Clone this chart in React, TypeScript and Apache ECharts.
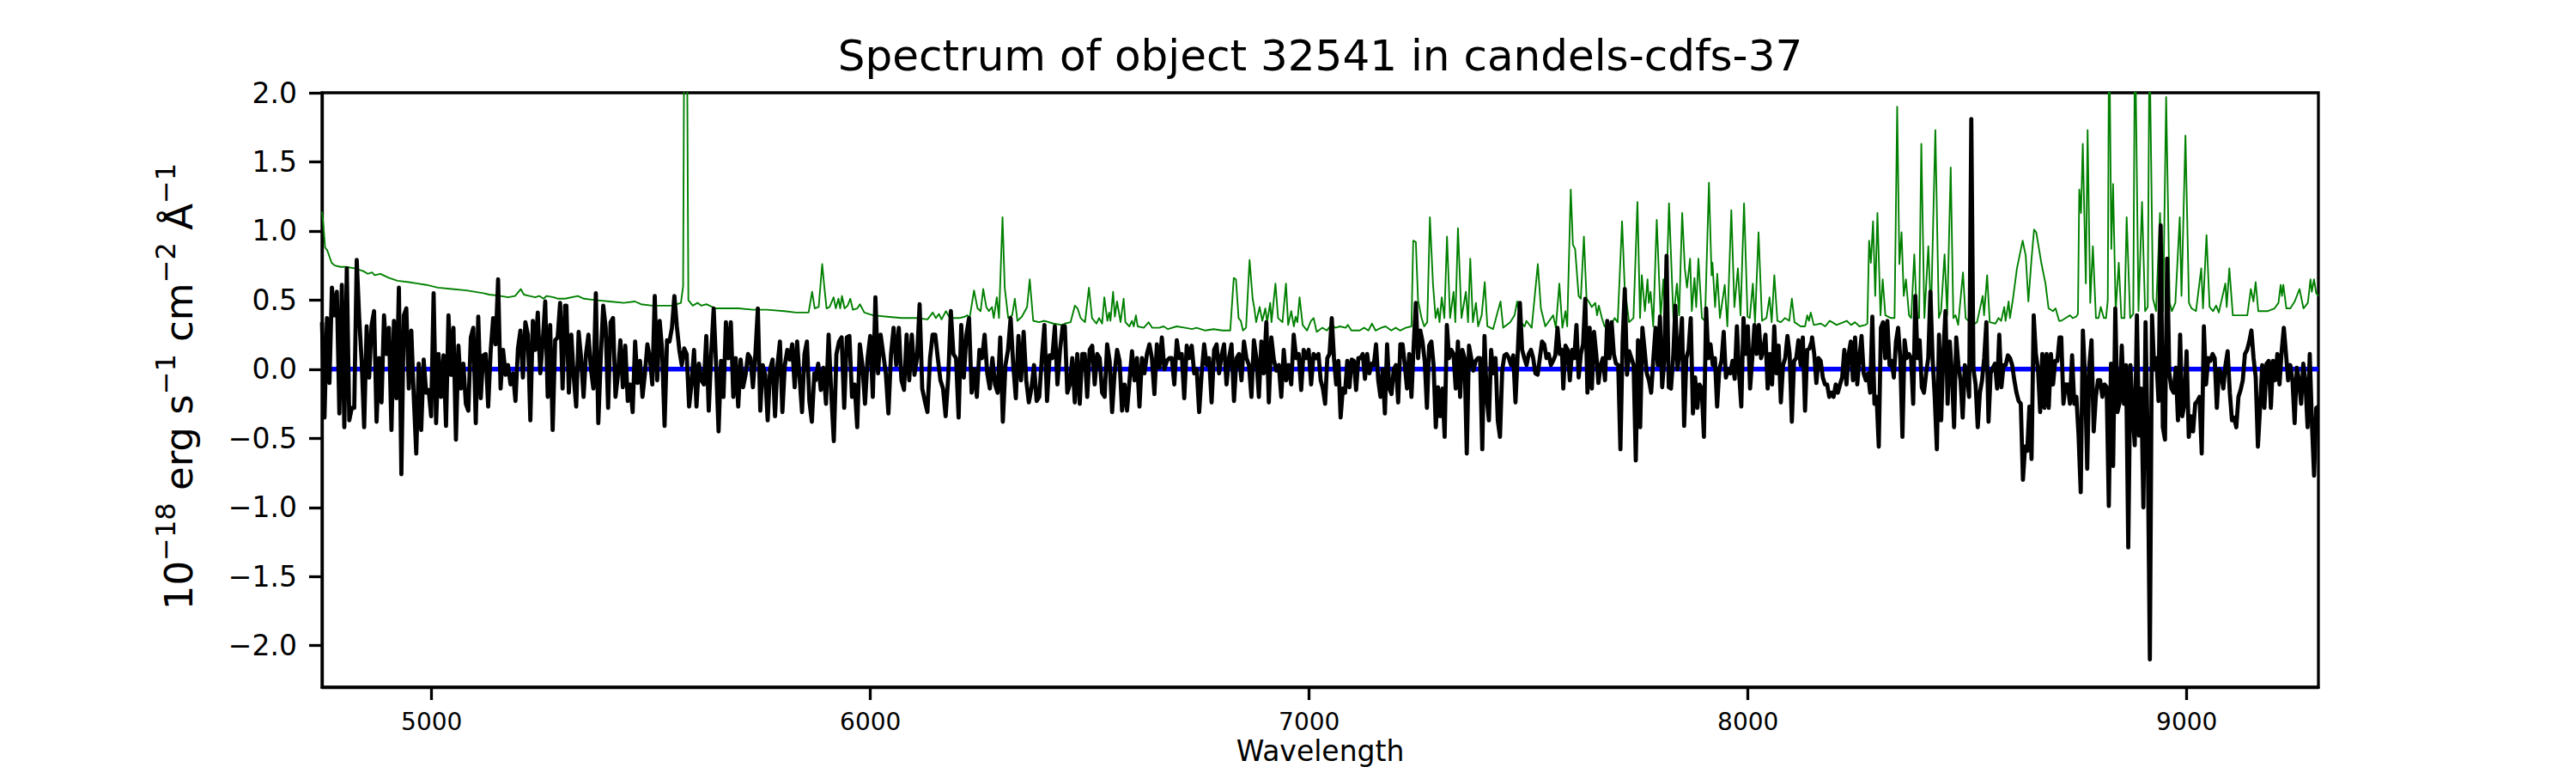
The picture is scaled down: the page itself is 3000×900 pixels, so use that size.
import React, { useEffect, useRef } from "react";
import * as echarts from "echarts";

const TITLE = "Spectrum of object 32541 in candels-cdfs-37";
const X_LABEL = "Wavelength";
const FONT = "DejaVu Sans";

const xRange = [4750, 9300];
const yRange = [-2.3, 2.0];
const xTicks = [5000, 6000, 7000, 8000, 9000];
const yTicks = [-2.0, -1.5, -1.0, -0.5, 0.0, 0.5, 1.0, 1.5, 2.0];

// Observed flux (black), read in eight wavelength segments
const fluxSegmentRanges = [
  [4750, 5304], [5307, 5872], [5875, 6438], [6443, 7010],
  [7011, 7576], [7579, 8145], [8146, 8710], [8714, 9300],
];

const flux1 = [
  0.34, -0.35, 0.37, -0.10, 0.59, 0.39, 0.56, -0.32, 0.61, -0.42,
  0.73, -0.37, -0.28, -0.28, 0.79, 0.37, 0.06, -0.42, 0.31, -0.06,
  0.32, 0.42, -0.38, 0.08, -0.24, 0.39, 0.11, 0.30, -0.44, 0.35,
  -0.21, 0.59, -0.76, 0.39, 0.44, -0.14, 0.28, -0.20, -0.61, 0.04,
  -0.44, 0.07, -0.17, -0.15, -0.34, 0.55, -0.39, 0.11, -0.20, 0.10,
  -0.41, 0.39, -0.04, 0.30, -0.51, 0.17, -0.14, 0.04, -0.25, -0.30,
  0.23, 0.30, -0.39, 0.38, -0.21, 0.10, 0.11, -0.27, 0.13, 0.37,
  0.18, 0.65, -0.14, 0.14, -0.04, 0.03, -0.11, -0.03, -0.23, 0.15,
  0.28, -0.06, 0.34, 0.25, -0.37, 0.35, 0.14, 0.41, -0.03, 0.20,
  0.49, -0.20, 0.32, -0.44, 0.21, 0.23, 0.48, -0.14, 0.46,
];
const flux2 = [
  0.46, -0.17, 0.25, -0.06, -0.27, 0.27, 0.08, -0.20, 0.11, 0.25,
  0.00, -0.14, 0.55, -0.39, 0.08, 0.46, 0.30, -0.28, 0.34, 0.37,
  -0.20, -0.04, 0.21, -0.13, 0.17, -0.23, -0.11, -0.31, 0.20, -0.10,
  0.06, -0.20, -0.03, 0.18, 0.08, -0.11, 0.53, -0.08, 0.35, 0.14,
  -0.41, 0.21, 0.20, 0.30, 0.53, 0.31, 0.14, 0.03, 0.15, 0.11,
  -0.27, -0.10, 0.14, -0.27, 0.04, -0.08, -0.11, 0.24, -0.30, 0.11,
  0.44, 0.03, -0.45, 0.06, -0.20, 0.34, 0.08, 0.34, -0.20, 0.08,
  -0.27, 0.07, -0.13, -0.04, 0.11, 0.08, -0.13, 0.11, 0.44, -0.30,
  0.03, -0.04, -0.37, 0.00, 0.07, -0.34, 0.03, 0.20, -0.31, 0.03,
  0.14, 0.07, 0.18, -0.13, 0.20, -0.06, -0.31, 0.11, 0.20, -0.23,
  -0.38, -0.03,
];
const flux3 = [
  -0.08, 0.04, -0.15, 0.01, -0.25, 0.25, -0.17, -0.52, 0.11, 0.20,
  0.23, -0.28, 0.23, 0.24, -0.20, -0.11, -0.42, 0.18, 0.03, -0.25,
  0.08, 0.24, -0.20, 0.52, -0.03, 0.25, 0.11, -0.03, -0.32, 0.11,
  0.30, 0.03, 0.30, -0.08, -0.15, 0.25, -0.08, 0.25, -0.04, 0.08,
  0.47, -0.14, -0.23, -0.31, 0.08, 0.25, 0.25, 0.08, -0.08, -0.14,
  -0.34, -0.06, 0.42, 0.11, 0.08, -0.35, 0.32, -0.06, 0.25, 0.37,
  -0.17, 0.00, -0.20, 0.14, 0.08, 0.25, -0.03, -0.14, 0.08, -0.11,
  -0.17, 0.23, -0.38, 0.03, 0.14, 0.37, 0.03, -0.21, 0.24, -0.08,
  0.27, -0.08, -0.24, -0.14, 0.03, -0.23, -0.20, 0.08, 0.32, -0.23,
  0.10, 0.08, 0.31, -0.11, 0.14, 0.31,
];
const flux4 = [
  0.31, -0.17, -0.11, 0.08, -0.24, 0.11, -0.25, 0.11, 0.11, -0.20,
  0.14, 0.17, -0.11, 0.11, 0.08, -0.17, -0.20, 0.18, 0.06, -0.31,
  -0.03, 0.14, 0.06, -0.30, -0.11, -0.30, -0.08, 0.13, -0.08, 0.08,
  -0.27, 0.08, -0.03, 0.11, 0.18, 0.08, -0.18, 0.18, 0.01, 0.23,
  0.00, 0.06, 0.08, 0.08, -0.11, 0.21, 0.08, 0.11, -0.21, 0.17,
  0.08, 0.17, -0.03, 0.00, -0.31, -0.03, 0.18, 0.03, 0.08, -0.24,
  0.14, 0.18, -0.03, 0.10, 0.18, -0.11, 0.08, 0.18, -0.23, 0.08,
  0.11, -0.08, 0.20, 0.08, 0.03, -0.20, 0.21, 0.08, -0.20, 0.20,
  -0.03, 0.34, -0.24, 0.23, 0.07, -0.01, 0.03, -0.20, 0.14, -0.08,
  0.03, -0.11, 0.25, 0.08, 0.11, -0.15, 0.14, 0.08, 0.14, -0.11,
  0.11,
];
const flux5 = [
  0.11, 0.08, 0.11, -0.08, -0.14, -0.25, 0.08, 0.11, 0.37, 0.08,
  -0.11, 0.06, -0.35, -0.14, -0.17, 0.06, -0.13, 0.07, 0.06, -0.15,
  0.08, 0.08, 0.11, -0.07, 0.11, -0.03, 0.04, 0.03, 0.18, -0.08,
  -0.20, 0.00, -0.32, 0.18, -0.14, -0.18, 0.00, 0.03, -0.24, 0.18,
  0.18, 0.03, -0.14, 0.11, -0.20, 0.17, 0.48, 0.08, 0.28, 0.20,
  0.06, -0.28, 0.17, 0.20, 0.03, -0.42, -0.13, -0.34, -0.14, -0.49,
  0.32, 0.08, 0.14, 0.11, -0.14, 0.20, -0.20, 0.14, 0.08, -0.61,
  0.17, 0.08, -0.01, 0.06, 0.08, 0.08, -0.58, 0.24, -0.20, -0.37,
  0.14, -0.03, 0.08, -0.37, -0.49, -0.01, 0.10, 0.11, 0.08, 0.03,
  0.10, -0.24, 0.11, 0.48, 0.14, 0.08, 0.03, 0.11, 0.14, 0.08,
  -0.03, -0.04, 0.08, 0.20, 0.18, 0.08, 0.11, 0.03, 0.06, 0.10,
  0.30, 0.11, 0.14,
];
const flux6 = [
  -0.14, 0.17, 0.14, -0.08, 0.14, 0.08, 0.32, -0.06, 0.11, 0.18,
  0.51, -0.17, 0.30, -0.14, 0.27, 0.11, -0.10, 0.03, 0.08, -0.08,
  0.35, 0.08, 0.34, 0.11, 0.04, 0.03, -0.58, 0.20, 0.58, -0.04,
  0.13, 0.08, 0.03, -0.66, 0.21, -0.42, 0.30, 0.14, -0.03, -0.08,
  -0.17, 0.08, 0.30, 0.03, 0.38, -0.13, 0.08, 0.82, -0.13, -0.14,
  0.08, 0.46, 0.00, 0.14, 0.37, -0.41, 0.08, 0.14, 0.37, -0.32,
  -0.06, -0.28, -0.11, -0.14, -0.49, 0.44, 0.08, 0.18, 0.03, 0.08,
  -0.27, 0.00, 0.06, 0.27, -0.06, 0.00, -0.03, 0.06, -0.07, 0.31,
  -0.03, -0.27, 0.37, 0.11, 0.31, -0.14, 0.08, 0.32, 0.11, 0.32,
  0.08, 0.14, 0.25, -0.14, 0.11, -0.11, 0.31, -0.03, 0.17, -0.24,
  0.03, 0.08, 0.24, 0.11, -0.38, 0.06, 0.08, 0.21, 0.03, 0.23,
  -0.30, 0.14, 0.15, 0.20,
];
const flux7 = [
  0.23, 0.11, -0.10, 0.08, 0.06, -0.06, -0.11, -0.11, -0.20, -0.17,
  -0.20, -0.11, -0.17, -0.11, -0.06, 0.14, -0.11, 0.11, 0.20, -0.08,
  0.23, -0.11, 0.08, 0.24, -0.03, -0.08, -0.03, -0.17, 0.38, -0.25,
  -0.20, -0.56, 0.30, 0.34, 0.08, 0.35, 0.03, 0.06, -0.06, 0.20,
  0.30, 0.08, -0.49, 0.21, 0.08, 0.11, 0.08, -0.25, 0.53, 0.08,
  0.21, -0.13, -0.17, -0.03, 0.08, 0.56, 0.08, -0.20, -0.58, 0.25,
  -0.37, 0.11, 0.42, -0.25, 0.20, -0.03, -0.42, 0.23, 0.03, -0.08,
  -0.35, 0.03, -0.04, -0.20, 1.81, 0.00, -0.11, -0.42, -0.17, -0.08,
  0.08, 0.34, -0.38, -0.03, 0.01, 0.04, -0.14, 0.25, -0.13, 0.03,
  0.03, 0.10, 0.08, 0.03, -0.08, -0.17, -0.23, -0.25, -0.80, -0.56,
  -0.59, -0.27, -0.65, 0.39, 0.11, 0.00, -0.31, 0.11, -0.28, 0.11,
  -0.28, 0.11, -0.11, 0.06, 0.06, 0.23,
];
const flux8 = [
  0.23, -0.25, -0.11, -0.11, -0.25, 0.10, -0.25, -0.20, -0.48, -0.89,
  0.28, -0.06, -0.72, 0.03, 0.21, -0.45, -0.20, -0.08, -0.08, -0.20,
  -0.11, -0.13, -0.99, 0.04, -0.70, 0.44, -0.31, -0.24, 0.17, -0.25,
  0.03, -1.29, 0.03, -0.31, -0.55, 0.39, -0.48, -0.14, -1.00, 0.34,
  -0.53, -2.10, 0.39, 0.00, 0.08, -0.23, 1.04, -0.42, -0.51, 0.80,
  -0.03, -0.14, -0.17, 0.01, -0.37, 0.25, -0.34, -0.25, 0.13, -0.49,
  -0.34, -0.45, -0.25, -0.23, -0.20, -0.61, 0.31, -0.11, 0.08, 0.06,
  0.11, 0.08, -0.28, 0.00, -0.03, -0.14, 0.03, 0.13, -0.17, -0.37,
  -0.35, -0.42, -0.20, -0.15, -0.08, 0.11, 0.14, 0.20, 0.28, 0.08,
  -0.06, -0.56, -0.28, 0.03, -0.28, 0.04, 0.06, -0.28, 0.06, -0.08,
  0.11, -0.11, 0.13, 0.30, 0.11, -0.08, 0.03, -0.08, -0.39, 0.01,
  -0.08, -0.25, 0.04, -0.10, -0.42, 0.11, -0.39, -0.77, -0.28, -0.27,
];
const fluxSegments = [flux1, flux2, flux3, flux4, flux5, flux6, flux7, flux8];

// Noise / sky spectrum (green)
const noiseWave = [
  4750, 4753, 4757, 4762, 4772, 4779, 4792, 4805, 4824, 4844,
  4854, 4864, 4870, 4883, 4903, 4922, 4948, 4968, 4988, 5014,
  5046, 5079, 5118, 5131, 5157, 5174, 5190, 5203, 5210, 5223,
  5236, 5245, 5255, 5262, 5278, 5288, 5304, 5333, 5347, 5373,
  5405, 5438, 5463, 5477, 5503, 5529, 5549, 5568, 5573, 5577,
  5581, 5585, 5595, 5606, 5614, 5626, 5647, 5673, 5699, 5732,
  5764, 5804, 5830, 5859, 5867, 5873, 5882, 5890, 5895, 5900,
  5907, 5916, 5921, 5927, 5931, 5935, 5941, 5948, 5954, 5960,
  5970, 5976, 5986, 6006, 6038, 6071, 6104, 6130, 6142, 6149,
  6156, 6162, 6172, 6181, 6202, 6215, 6221, 6226, 6236, 6244,
  6251, 6257, 6264, 6270, 6277, 6281, 6288, 6293, 6301, 6306,
  6314, 6323, 6329, 6335, 6345, 6357, 6363, 6371, 6384, 6397,
  6417, 6437, 6443, 6456, 6466, 6472, 6479, 6489, 6498, 6505,
  6515, 6521, 6528, 6533, 6540, 6544, 6547, 6553, 6557, 6562,
  6570, 6577, 6581, 6590, 6596, 6600, 6605, 6609, 6623, 6634,
  6642, 6658, 6668, 6678, 6698, 6717, 6733, 6743, 6763, 6782,
  6802, 6820, 6828, 6833, 6839, 6844, 6849, 6856, 6864, 6871,
  6875, 6879, 6887, 6893, 6900, 6904, 6911, 6914, 6923, 6929,
  6939, 6947, 6952, 6959, 6965, 6969, 6973, 6978, 6985, 6995,
  7004, 7010, 7017, 7030, 7040, 7050, 7060, 7070, 7083, 7088,
  7096, 7115, 7125, 7135, 7143, 7151, 7164, 7174, 7187, 7197,
  7207, 7220, 7233, 7237, 7243, 7248, 7256, 7262, 7269, 7275,
  7282, 7288, 7293, 7297, 7302, 7308, 7314, 7321, 7329, 7333,
  7339, 7347, 7357, 7362, 7367, 7373, 7380, 7385, 7393, 7400,
  7406, 7419, 7429, 7436, 7442, 7458, 7468, 7474, 7482, 7491,
  7495, 7507, 7521, 7528, 7538, 7556, 7562, 7570, 7577, 7584,
  7588, 7596, 7601, 7606, 7614, 7619, 7626, 7632, 7637, 7644,
  7652, 7656, 7660, 7667, 7673, 7683, 7696, 7703, 7713, 7719,
  7729, 7739, 7748, 7754, 7758, 7765, 7771, 7774, 7778, 7784,
  7792, 7801, 7807, 7812, 7820, 7830, 7838, 7843, 7850, 7856,
  7861, 7868, 7872, 7878, 7882, 7887, 7895, 7902, 7911, 7917,
  7919, 7925, 7930, 7936, 7947, 7953, 7962, 7969, 7977, 7983,
  7991, 7999, 8004, 8011, 8016, 8024, 8032, 8042, 8049, 8054,
  8060, 8067, 8075, 8084, 8094, 8100, 8106, 8120, 8130, 8135,
  8139, 8143, 8150, 8166, 8176, 8186, 8192, 8202, 8225, 8235,
  8244, 8254, 8267, 8272, 8276, 8280, 8285, 8290, 8295, 8302,
  8307, 8313, 8326, 8334, 8340, 8345, 8350, 8355, 8360, 8367,
  8372, 8379, 8385, 8390, 8395, 8402, 8411, 8417, 8427, 8435,
  8440, 8448, 8454, 8462, 8468, 8473, 8479, 8490, 8496, 8512,
  8522, 8535, 8538, 8545, 8551, 8564, 8571, 8577, 8584, 8587,
  8594, 8597, 8603, 8613, 8626, 8633, 8639, 8646, 8652, 8657,
  8669, 8678, 8685, 8695, 8701, 8709, 8714, 8724, 8734, 8740,
  8748, 8752, 8755, 8759, 8763, 8770, 8774, 8780, 8786, 8793,
  8799, 8804, 8811, 8816, 8820, 8823, 8828, 8832, 8838, 8845,
  8851, 8858, 8863, 8871, 8878, 8882, 8890, 8898, 8905, 8911,
  8915, 8923, 8930, 8939, 8946, 8953, 8961, 8966, 8974, 8984,
  8988, 8997, 9005, 9011, 9021, 9033, 9037, 9045, 9052, 9060,
  9067, 9073, 9088, 9091, 9097, 9105, 9119, 9138, 9146, 9152,
  9157, 9163, 9184, 9200, 9209, 9214, 9217, 9220, 9227, 9236,
  9246, 9257, 9266, 9276, 9282, 9285, 9290, 9295, 9300,
];
const noiseFlux = [
  1.14, 1.05, 0.88, 0.86, 0.77, 0.75, 0.74, 0.74, 0.73, 0.71,
  0.69, 0.70, 0.68, 0.69, 0.66, 0.64, 0.63, 0.62, 0.61, 0.59,
  0.58, 0.57, 0.55, 0.54, 0.53, 0.52, 0.53, 0.58, 0.54, 0.53,
  0.52, 0.53, 0.51, 0.53, 0.52, 0.51, 0.51, 0.53, 0.51, 0.50,
  0.49, 0.48, 0.49, 0.47, 0.46, 0.46, 0.46, 0.48, 0.60, 3.50,
  3.00, 0.50, 0.46, 0.48, 0.46, 0.47, 0.44, 0.44, 0.44, 0.43,
  0.43, 0.42, 0.41, 0.41, 0.56, 0.44, 0.45, 0.76, 0.59, 0.44,
  0.45, 0.52, 0.44, 0.51, 0.44, 0.53, 0.44, 0.46, 0.51, 0.43,
  0.44, 0.47, 0.41, 0.39, 0.38, 0.37, 0.37, 0.36, 0.41, 0.37,
  0.40, 0.36, 0.42, 0.37, 0.37, 0.38, 0.39, 0.37, 0.57, 0.44,
  0.42, 0.58, 0.45, 0.42, 0.45, 0.37, 0.52, 0.37, 1.10, 0.59,
  0.37, 0.39, 0.51, 0.35, 0.38, 0.45, 0.65, 0.35, 0.34, 0.35,
  0.33, 0.32, 0.33, 0.34, 0.46, 0.44, 0.37, 0.34, 0.59, 0.37,
  0.33, 0.37, 0.33, 0.52, 0.35, 0.41, 0.35, 0.56, 0.38, 0.49,
  0.34, 0.51, 0.34, 0.31, 0.35, 0.31, 0.39, 0.31, 0.30, 0.34,
  0.30, 0.30, 0.31, 0.29, 0.31, 0.30, 0.29, 0.30, 0.28, 0.29,
  0.28, 0.28, 0.66, 0.65, 0.37, 0.35, 0.28, 0.30, 0.79, 0.51,
  0.44, 0.34, 0.45, 0.35, 0.44, 0.34, 0.48, 0.34, 0.62, 0.37,
  0.34, 0.62, 0.32, 0.42, 0.31, 0.38, 0.34, 0.52, 0.32, 0.28,
  0.35, 0.37, 0.27, 0.30, 0.28, 0.32, 0.30, 0.31, 0.30, 0.32,
  0.28, 0.28, 0.30, 0.28, 0.33, 0.28, 0.30, 0.31, 0.28, 0.30,
  0.28, 0.30, 0.31, 0.93, 0.92, 0.50, 0.37, 0.31, 0.34, 1.10,
  0.62, 0.37, 0.44, 0.34, 0.52, 0.37, 0.96, 0.37, 0.56, 0.34,
  1.02, 0.37, 0.56, 0.34, 0.80, 0.34, 0.48, 0.31, 0.39, 0.63,
  0.31, 0.29, 0.41, 0.49, 0.30, 0.34, 0.39, 0.49, 0.34, 0.31,
  0.35, 0.30, 0.76, 0.44, 0.31, 0.39, 0.30, 0.62, 0.30, 0.42,
  0.31, 1.30, 0.90, 0.87, 0.53, 0.51, 0.96, 0.51, 0.49, 0.45,
  0.48, 0.39, 0.46, 0.37, 0.31, 0.29, 0.37, 0.34, 1.07, 0.59,
  0.34, 0.37, 1.21, 0.37, 0.68, 0.42, 0.65, 0.48, 0.56, 0.31,
  1.08, 0.37, 0.65, 0.34, 1.20, 0.37, 0.62, 0.39, 1.13, 0.73,
  0.59, 0.80, 0.42, 0.66, 0.45, 0.80, 0.37, 0.35, 1.35, 0.68,
  0.77, 0.45, 0.69, 0.37, 0.61, 0.31, 1.15, 0.45, 0.73, 0.39,
  1.20, 0.38, 0.37, 0.62, 0.34, 0.99, 0.35, 0.37, 0.52, 0.34,
  0.68, 0.35, 0.34, 0.37, 0.35, 0.51, 0.34, 0.31, 0.31, 0.39,
  0.35, 0.41, 0.32, 0.33, 0.31, 0.35, 0.34, 0.32, 0.35, 0.32,
  0.34, 0.31, 0.32, 0.33, 0.93, 0.77, 1.07, 0.53, 1.13, 0.39,
  0.65, 0.39, 0.37, 0.37, 1.90, 0.76, 0.99, 0.53, 0.65, 0.39,
  0.37, 0.83, 0.37, 0.37, 1.63, 0.37, 0.89, 0.38, 1.73, 0.37,
  0.42, 0.83, 0.39, 1.46, 0.37, 0.39, 0.32, 0.70, 0.37, 0.32,
  0.34, 0.53, 0.39, 0.68, 0.34, 0.33, 0.37, 0.35, 0.45, 0.35,
  0.49, 0.37, 0.49, 0.73, 0.93, 0.82, 0.49, 0.79, 1.01, 0.99,
  0.76, 0.62, 0.44, 0.42, 0.44, 0.35, 0.35, 0.37, 0.39, 0.37,
  0.38, 0.40, 1.30, 1.13, 1.63, 0.62, 1.73, 0.48, 0.89, 0.37,
  0.37, 0.45, 0.37, 0.37, 0.50, 2.60, 0.87, 1.34, 0.42, 0.77,
  0.37, 0.37, 1.10, 0.37, 0.40, 2.50, 0.42, 1.21, 0.42, 0.45,
  2.40, 0.51, 0.42, 1.13, 0.42, 1.97, 0.48, 0.42, 0.48, 1.10,
  0.53, 1.69, 0.48, 0.44, 0.42, 0.73, 0.44, 0.97, 0.45, 0.42,
  0.46, 0.41, 0.62, 0.45, 0.73, 0.39, 0.39, 0.39, 0.58, 0.49,
  0.63, 0.42, 0.42, 0.44, 0.48, 0.61, 0.53, 0.61, 0.44, 0.44,
  0.49, 0.58, 0.44, 0.48, 0.65, 0.56, 0.65, 0.55, 0.53,
];

const zeroLevel = 0;

function buildFlux(): number[][] {
  const pts: number[][] = [];
  fluxSegments.forEach((vals, i) => {
    const [a, b] = fluxSegmentRanges[i];
    const step = (b - a) / (vals.length - 1);
    vals.forEach((v, j) => pts.push([a + j * step, v]));
  });
  return pts;
}

function buildNoise(): number[][] {
  const n = Math.min(noiseWave.length, noiseFlux.length);
  const pts: number[][] = [];
  for (let i = 0; i < n; i++) pts.push([noiseWave[i], noiseFlux[i]]);
  return pts;
}

const fmtY = (v: number) =>
  (Math.abs(v) < 1e-9 ? 0 : v).toFixed(1).replace("-", "\u2212");

export default function App() {
  const ref = useRef<HTMLDivElement>(null);

  useEffect(() => {
    document.body.style.margin = "0";
    if (!ref.current) return;
    const chart = echarts.init(ref.current, undefined, { renderer: "svg" });

    const gridLeft = 375;
    const gridRight = 300;
    const gridTop = 108;
    const gridBottom = 100;
    const plotCenterX = gridLeft + (3000 - gridLeft - gridRight) / 2;
    const plotCenterY = gridTop + (900 - gridTop - gridBottom) / 2;

    const option: any = {
      animation: false,
      backgroundColor: "#ffffff",
      grid: {
        left: gridLeft,
        right: gridRight,
        top: gridTop,
        bottom: gridBottom,
        show: true,
        borderColor: "#000000",
        borderWidth: 3.3,
        backgroundColor: "transparent",
      },
      xAxis: {
        type: "value",
        min: xRange[0],
        max: xRange[1],
        axisLine: { show: true, onZero: false, lineStyle: { color: "#000", width: 3.3 } },
        axisTick: {
          show: true,
          inside: false,
          length: 15,
          customValues: xTicks,
          lineStyle: { color: "#000", width: 3.3 },
        },
        axisLabel: {
          customValues: xTicks,
          formatter: (v: number) => String(v),
          fontSize: 28,
          color: "#000",
          fontFamily: FONT,
          margin: 26,
        },
        splitLine: { show: false },
      },
      yAxis: {
        type: "value",
        min: yRange[0],
        max: yRange[1],
        axisLine: { show: true, onZero: false, lineStyle: { color: "#000", width: 3.3 } },
        axisTick: {
          show: true,
          inside: false,
          length: 15,
          customValues: yTicks,
          lineStyle: { color: "#000", width: 3.3 },
        },
        axisLabel: {
          customValues: yTicks,
          formatter: fmtY,
          fontSize: 33,
          color: "#000",
          fontFamily: FONT,
          margin: 29,
        },
        splitLine: { show: false },
      },
      series: [
        {
          name: "zero",
          type: "line",
          data: [[xRange[0], zeroLevel], [xRange[1], zeroLevel]],
          showSymbol: false,
          symbol: "none",
          lineStyle: { color: "#0000ff", width: 5.5 },
          clip: true,
          silent: true,
        },
        {
          name: "noise",
          type: "line",
          data: buildNoise(),
          showSymbol: false,
          symbol: "none",
          lineStyle: { color: "#008000", width: 1.9, join: "round" },
          clip: true,
          silent: true,
        },
        {
          name: "flux",
          type: "line",
          data: buildFlux(),
          showSymbol: false,
          symbol: "none",
          lineStyle: { color: "#000000", width: 4.8, join: "round" },
          clip: true,
          silent: true,
        },
      ],
      graphic: [
        {
          type: "text",
          x: plotCenterX,
          y: 65,
          style: {
            text: TITLE,
            fontSize: 50,
            fontFamily: FONT,
            fill: "#000",
            align: "center",
            verticalAlign: "middle",
          },
        },
        {
          type: "text",
          x: plotCenterX,
          y: 874,
          style: {
            text: X_LABEL,
            fontSize: 33,
            fontFamily: FONT,
            fill: "#000",
            align: "center",
            verticalAlign: "middle",
          },
        },
        {
          type: "text",
          x: 208,
          y: plotCenterY - 4,
          rotation: Math.PI / 2,
          style: {
            text: "{n|10}{s|\u221218}{n| erg s}{s|\u22121}{n| cm}{s|\u22122}{n| \u00C5}{s|\u22121}",
            align: "center",
            verticalAlign: "middle",
            fill: "#000",
            rich: {
              n: { fontSize: 45, lineHeight: 62, fontFamily: FONT, fill: "#000" },
              s: { fontSize: 32, lineHeight: 32, verticalAlign: "top", fontFamily: FONT, fill: "#000" },
            },
          },
        },
      ],
    };

    chart.setOption(option);
    return () => chart.dispose();
  }, []);

  return <div ref={ref} style={{ width: 3000, height: 900 }} />;
}
